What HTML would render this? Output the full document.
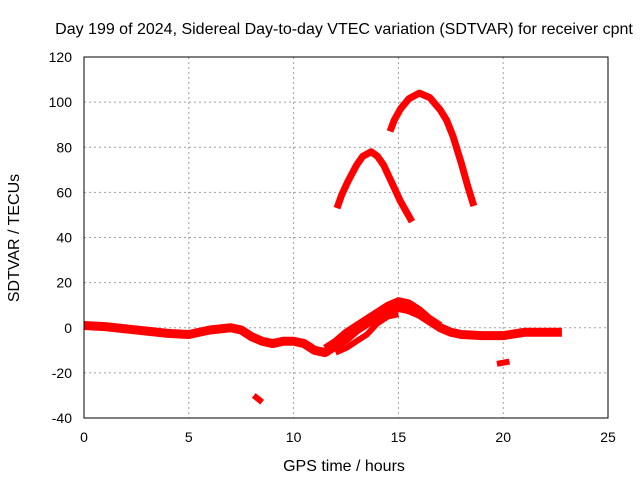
<!DOCTYPE html>
<html><head><meta charset="utf-8"><style>
body{margin:0;background:#fff;font-family:"Liberation Sans",sans-serif;}
svg text{font-family:"Liberation Sans",sans-serif;font-size:14px;fill:#000;}
svg text.big{font-size:16px;}
</style></head><body>
<svg width="640" height="480" id="chart">
<text class="big" x="344" y="34" text-anchor="middle">Day 199 of 2024, Sidereal Day-to-day VTEC variation (SDTVAR) for receiver cpnt</text>
<g id="grid"></g>
<g id="axes"></g>
<g id="series"></g>
<rect x="84" y="57" width="524" height="361" fill="none" stroke="#000" stroke-width="1"/>
<text class="big" x="344" y="471" text-anchor="middle">GPS time / hours</text>
<text class="big" transform="translate(19,238) rotate(-90)" text-anchor="middle">SDTVAR / TECUs</text>
</svg>
<script>
const xTicks=[0,5,10,15,20,25];
const yTicks=[-40,-20,0,20,40,60,80,100,120];
const mainBand=[[0,1],[1,0.5],[2,-0.5],[3,-1.5],[4,-2.5],[5,-3],[5.5,-2],[6,-1],[7,0],[7.5,-1],[8,-4],[8.5,-6],[9,-7],[9.5,-6],[10,-6],[10.5,-7],[11,-10],[11.5,-11],[12,-8],[12.5,-5],[13,-1],[13.5,2],[14,5],[14.5,8],[15,9],[15.5,8],[16,6],[16.5,3],[17,0],[17.5,-2],[18,-3],[19,-3.5],[20,-3.5],[21,-2],[22,-2],[22.8,-2]];
const upperBand=[[11.5,-9],[12,-6],[12.5,-2],[13,1],[13.5,4],[14,7],[14.5,10],[15,12],[15.5,11],[16,8],[16.5,4],[17,1]];
const lowerStrand=[[12,-11],[12.5,-9],[13,-6],[13.5,-3],[14,2],[14.5,5],[15,6]];
const blipA=[[8.1,-30],[8.5,-33]];
const blipB=[[19.7,-16],[20.3,-15]];
const arc1=[[12.07,53],[12.3,59],[12.6,65],[13,72],[13.3,76],[13.7,78],[14.0,76],[14.3,72],[14.6,66],[15.1,56],[15.65,47]];
const arc2=[[14.6,87],[14.8,92],[15.1,97],[15.5,101.5],[16,104],[16.5,102],[17,96.5],[17.3,92],[17.6,85],[18,73],[18.3,63],[18.6,54]];
const X=h=>84+h*524/25, Y=v=>418-(v+40)*361/160;
const NS="http://www.w3.org/2000/svg";
function mk(t,a,p){const e=document.createElementNS(NS,t);for(const k in a)e.setAttribute(k,a[k]);p.appendChild(e);return e;}
const grid=document.getElementById('grid'),axes=document.getElementById('axes'),ser=document.getElementById('series');
xTicks.forEach(t=>{
 if(t>0&&t<25){const l=mk('line',{x1:X(t),x2:X(t),y1:57,y2:418,stroke:'#a0a0a0','stroke-dasharray':'2,3'},grid);
 
 }
 const tk=mk('text',{x:X(t),y:442,'text-anchor':'middle'},axes);tk.textContent=t;
 
 
});
yTicks.forEach(t=>{
 if(t>-40&&t<120){const l=mk('line',{x1:84,x2:608,y1:Y(t),y2:Y(t),stroke:'#a0a0a0','stroke-dasharray':'2,3'},grid);
 
 }
 const tk=mk('text',{x:72,y:Y(t)+5,'text-anchor':'end'},axes);tk.textContent=t;
 
 
});
const all=[['main-band',mainBand,9],['upper-band',upperBand,7],['lower-strand',lowerStrand,6],['blip-a',blipA,6],['blip-b',blipB,6],['arc-1',arc1,7],['arc-2',arc2,7]];
all.forEach(([n,d,w])=>{
 const p=mk('polyline',{points:d.map(q=>X(q[0])+','+Y(q[1])).join(' '),fill:'none',stroke:'#ff0000','stroke-width':w,'stroke-linejoin':'round','stroke-linecap':'butt'},ser);
 
 
});
</script>
</body></html>
